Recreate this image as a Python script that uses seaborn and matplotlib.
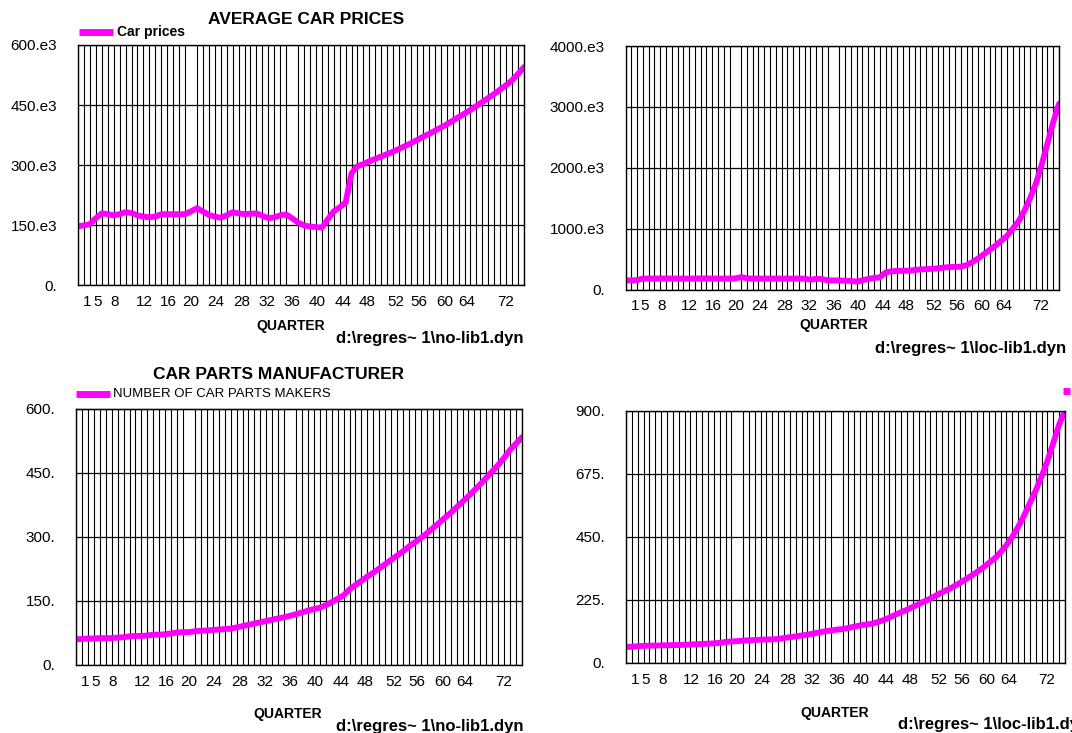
import numpy as np
import pandas as pd
import matplotlib
matplotlib.use("Agg")
import matplotlib.pyplot as plt
from matplotlib import font_manager
from matplotlib.lines import Line2D
import seaborn as sns

# ---------------- data ----------------
quarters = list(range(1, 77))

car_prices_k = [148, 150, 153, 168, 180, 178, 175, 178, 183, 181,
                175, 172, 170, 172, 178, 178, 178, 178, 178, 185,
                193, 185, 176, 172, 169, 175, 183, 180, 178, 179,
                180, 174, 168, 170, 175, 177, 168, 157, 150, 147,
                146, 144, 165, 185, 195, 207, 280, 298, 303, 310,
                316, 322, 328, 334, 341, 348, 355, 363, 371, 378,
                386, 394, 402, 411, 420, 429, 438, 448, 458, 468,
                478, 489, 500, 512, 528, 545]

loc_prices_k = [150, 150, 155, 180, 180, 180, 182, 182, 180, 180,
                180, 180, 180, 182, 182, 180, 180, 180, 180, 182,
                205, 185, 180, 180, 180, 180, 180, 180, 180, 180,
                180, 178, 160, 175, 172, 150, 150, 148, 145, 140,
                130, 150, 175, 190, 200, 280, 300, 305, 308, 310,
                320, 330, 335, 340, 348, 360, 368, 372, 375, 400,
                450, 510, 580, 650, 720, 800, 880, 1000, 1120, 1290,
                1500, 1740, 2050, 2400, 2750, 3050]

parts_makers = [60, 61, 62, 62, 63, 63, 63, 64, 65, 67,
                68, 68, 69, 71, 71, 72, 74, 76, 77, 77,
                79, 80, 81, 82, 83, 84, 85, 88, 91, 94,
                97, 100, 103, 106, 109, 112, 115, 119, 123, 127,
                131, 134, 140, 147, 155, 163, 177, 187, 197, 207,
                216, 226, 236, 246, 256, 266, 277, 287, 297, 308,
                320, 332, 344, 356, 369, 382, 395, 409, 423, 438,
                453, 468, 485, 503, 518, 533]

loc_parts_makers = [57, 58, 60, 61, 62, 62, 63, 63, 64, 64,
                    65, 66, 67, 68, 69, 70, 72, 75, 77, 78,
                    80, 81, 82, 83, 84, 84, 86, 89, 92, 95,
                    98, 101, 105, 109, 113, 116, 119, 121, 125, 130,
                    134, 137, 140, 146, 153, 162, 172, 181, 190, 200,
                    210, 220, 230, 241, 252, 262, 273, 285, 298, 311,
                    325, 340, 357, 373, 395, 420, 450, 485, 525, 570,
                    615, 665, 720, 785, 850, 900]

x_tick_labels = ["1", "5", "8", "12", "16", "20", "24", "28", "32", "36",
                 "40", "44", "48", "52", "56", "60", "64", "72"]
x_tick_pos = [2.6, 4.3, 7.2, 12.1, 16.2, 20.0, 24.2, 28.6, 32.8, 37.0,
              41.2, 45.5, 49.6, 54.4, 58.4, 62.6, 66.4, 72.9]

y_ticks_tl = [0, 150, 300, 450, 600]
y_labels_tl = ["0.", "150.e3", "300.e3", "450.e3", "600.e3"]
y_ticks_tr = [0, 1000, 2000, 3000, 4000]
y_labels_tr = ["0.", "1000.e3", "2000.e3", "3000.e3", "4000.e3"]
y_ticks_bl = [0, 150, 300, 450, 600]
y_labels_bl = ["0.", "150.", "300.", "450.", "600."]
y_ticks_br = [0, 225, 450, 675, 900]
y_labels_br = ["0.", "225.", "450.", "675.", "900."]

# ---------------- style ----------------
sns.set_style("white")
names = {f.name for f in font_manager.fontManager.ttflist}
NARROW = "Liberation Sans Narrow" if "Liberation Sans Narrow" in names else "Liberation Sans"
plt.rcParams["font.family"] = ["Liberation Sans", "DejaVu Sans"]
for k in ("text.color", "axes.labelcolor", "xtick.color", "ytick.color"):
    plt.rcParams[k] = "black"

MAGENTA = "#FF00FF"
W, H = 1072, 733
fig = plt.figure(figsize=(W / 100, H / 100), dpi=100)
fig.patch.set_facecolor("white")


def px_axes(left, right, top, bottom):
    return fig.add_axes([left / W, 1 - bottom / H, (right - left) / W, (bottom - top) / H])


def style_axes(ax, yticks, ylabels):
    ax.set_xlim(1, 76)
    ax.set_ylim(yticks[0], yticks[-1])
    ax.set_xticks(x_tick_pos)
    ax.set_xticklabels(x_tick_labels)
    ax.set_xticks(quarters, minor=True)
    ax.set_yticks(yticks)
    ax.set_yticklabels(ylabels)
    ax.tick_params(axis="both", which="both", length=0, labelsize=11, colors="black")
    ax.tick_params(axis="y", pad=15)
    ax.tick_params(axis="x", pad=7)
    ax.grid(False)
    ax.grid(which="minor", axis="x", color="black", lw=0.8)
    ax.grid(which="major", axis="y", color="black", lw=0.9)
    ax.set_axisbelow(True)
    for s in ax.spines.values():
        s.set_visible(True)
        s.set_color("black")
        s.set_linewidth(1.0)
    ax.set_xlabel("")
    ax.set_ylabel("")


def ftext(x, y, s, **kw):
    fig.text(x / W, 1 - y / H, s, color="black", **kw)


def legend_line(x0, x1, y):
    fig.add_artist(Line2D([x0 / W, x1 / W], [1 - y / H, 1 - y / H], color=MAGENTA,
                          lw=5, solid_capstyle="butt", transform=fig.transFigure))


panels = [
    (px_axes(78, 524, 45, 285.5), car_prices_k, y_ticks_tl, y_labels_tl),
    (px_axes(625.5, 1059, 46, 289.5), loc_prices_k, y_ticks_tr, y_labels_tr),
    (px_axes(76, 522, 408.5, 665), parts_makers, y_ticks_bl, y_labels_bl),
    (px_axes(626, 1065, 410.5, 663), loc_parts_makers, y_ticks_br, y_labels_br),
]

for ax, vals, yt, yl in panels:
    df = pd.DataFrame({"quarter": quarters, "value": vals})
    sns.lineplot(data=df, x="quarter", y="value", ax=ax, color=MAGENTA, lw=4.2)
    style_axes(ax, yt, yl)

# titles / legends
ftext(306, 19, "AVERAGE CAR PRICES", ha="center", va="center", fontsize=12.5,
      fontweight="bold", family=[NARROW, "DejaVu Sans"])
legend_line(79, 113, 32)
ftext(117, 32, "Car prices", ha="left", va="center", fontsize=10,
      fontweight="bold", family=[NARROW, "DejaVu Sans"])

ftext(279, 374, "CAR PARTS MANUFACTURER", ha="center", va="center", fontsize=12.5,
      fontweight="bold", family=[NARROW, "DejaVu Sans"])
legend_line(76, 110, 394)
ftext(113, 394, "NUMBER OF CAR PARTS MAKERS", ha="left", va="center", fontsize=9.5,
      family=[NARROW, "DejaVu Sans"])

# small legend marker at right edge
fig.add_artist(Line2D([1062.5 / W, 1069.5 / W], [1 - 391 / H, 1 - 391 / H], color=MAGENTA,
                      lw=5, solid_capstyle="butt", transform=fig.transFigure))

# axis labels and file names
lab = dict(ha="center", va="center", fontsize=10, fontweight="bold",
           family=[NARROW, "DejaVu Sans"])
ftext(291, 326, "QUARTER", **lab)
ftext(834, 325, "QUARTER", **lab)
ftext(288, 714, "QUARTER", **lab)
ftext(835, 713, "QUARTER", **lab)

fn = dict(va="center", fontsize=12, fontweight="bold", family=[NARROW, "DejaVu Sans"])
ftext(524, 339, "d:\\regres~ 1\\no-lib1.dyn", ha="right", **fn)
ftext(1066, 348, "d:\\regres~ 1\\loc-lib1.dyn", ha="right", **fn)
ftext(524, 726, "d:\\regres~ 1\\no-lib1.dyn", ha="right", **fn)
ftext(898, 725, "d:\\regres~ 1\\loc-lib1.dyn", ha="left", **fn)

fig.savefig("out.png", dpi=100, facecolor="white")
